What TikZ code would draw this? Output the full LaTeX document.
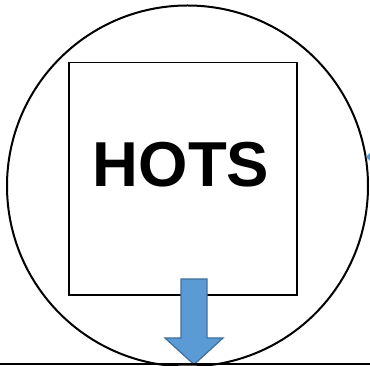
\documentclass[tikz,border=0pt]{standalone}
\usepackage{fontspec}
\setmainfont{Liberation Sans}
\definecolor{arrowfill}{HTML}{5B9BD5}
\definecolor{arrowline}{HTML}{41719C}
\begin{document}
\begin{tikzpicture}[x=1pt,y=1pt,
  outline/.style={draw=black,line width=2pt},
  boxline/.style={draw=black,line width=1.6pt},
  bluearrow/.style={fill=arrowfill,draw=arrowline,line width=1.3pt,line join=miter}]
\useasboundingbox (0,0) rectangle (370,366);
\begin{scope}
\clip (0,0) rectangle (370,366);
\draw[outline] (187.5,180) circle (180.5);
\fill[arrowfill] (366,209) -- (370,213) -- (370,205) -- cycle;
\end{scope}
\draw[boxline] (69,71) rectangle (297,303.3);
\node[font=\bfseries\fontsize{63.5}{63.5}\selectfont,inner sep=0pt] (hots) at (181,201) {HOTS};
\draw[bluearrow] (181,87) -- (207,87) -- (207,28) -- (223,28) -- (194,1.5) -- (165,28) -- (181,28) -- cycle;
\draw[draw=black,line width=1.6pt] (0,2) -- (370,2);
\end{tikzpicture}
\end{document}
